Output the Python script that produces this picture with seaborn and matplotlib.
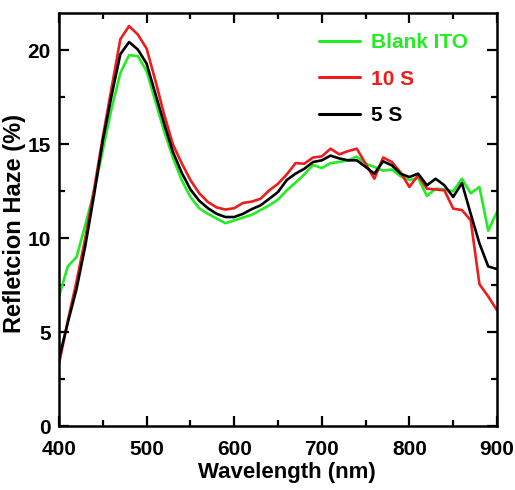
import numpy as np
import pandas as pd
import matplotlib
matplotlib.use("Agg")
import matplotlib.pyplot as plt
import seaborn as sns
from matplotlib.ticker import MultipleLocator

wavelength = list(range(400, 901, 10))

blank_ito = [6.9, 8.5, 9.0, 10.7, 12.5, 14.7, 16.9, 18.8, 19.75, 19.7,
             18.9, 17.3, 15.7, 14.3, 13.1, 12.2, 11.6, 11.3, 11.05, 10.8,
             10.95, 11.1, 11.25, 11.5, 11.75, 12.06, 12.55, 12.96, 13.4, 13.9,
             13.74, 14.0, 14.06, 14.15, 14.35, 13.97, 13.8, 13.6, 13.66, 13.3,
             13.1, 13.2, 12.25, 12.64, 12.6, 12.5, 13.17, 12.4, 12.73, 10.4,
             11.4]

s10 = [3.3, 5.6, 7.7, 10.0, 12.6, 15.4, 18.0, 20.6, 21.3, 20.85,
       20.1, 18.4, 16.6, 15.0, 14.0, 13.1, 12.4, 11.93, 11.64, 11.53,
       11.6, 11.88, 11.95, 12.1, 12.55, 12.9, 13.4, 14.0, 13.97, 14.3,
       14.36, 14.77, 14.47, 14.64, 14.77, 13.97, 13.17, 14.3, 14.06, 13.5,
       12.73, 13.35, 12.64, 12.6, 12.55, 11.58, 11.5, 10.96, 7.55, 6.9,
       6.17]

s5 = [3.6, 5.5, 7.3, 9.6, 12.3, 15.2, 17.6, 19.8, 20.45, 20.05,
      19.3, 17.7, 16.1, 14.6, 13.5, 12.6, 12.0, 11.6, 11.3, 11.13,
      11.13, 11.3, 11.55, 11.75, 12.1, 12.46, 13.1, 13.44, 13.7, 14.06,
      14.15, 14.4, 14.25, 14.15, 14.15, 13.8, 13.44, 14.1, 13.88, 13.44,
      13.26, 13.44, 12.82, 13.17, 12.82, 12.2, 12.94, 11.3, 9.72, 8.5,
      8.36]

series_names = ["Blank ITO", "10 S", "5 S"]
series_colors = {"Blank ITO": "#22ec22", "10 S": "#ee1c1c", "5 S": "#000000"}

df = pd.concat([
    pd.DataFrame({"Wavelength": wavelength, "Haze": vals, "Sample": name})
    for name, vals in zip(series_names, [blank_ito, s10, s5])
], ignore_index=True)

sns.set_style("ticks")
plt.rcParams["font.family"] = ["Liberation Sans", "DejaVu Sans"]
plt.rcParams["font.weight"] = "bold"
plt.rcParams["text.color"] = "black"
plt.rcParams["axes.labelcolor"] = "black"
plt.rcParams["xtick.color"] = "black"
plt.rcParams["ytick.color"] = "black"
plt.rcParams["axes.edgecolor"] = "black"

fig = plt.figure(figsize=(5.15, 4.9), dpi=100)
ax = fig.add_axes([0.1146, 0.1306, 0.8504, 0.843])

sns.lineplot(data=df, x="Wavelength", y="Haze", hue="Sample",
             hue_order=series_names, palette=series_colors,
             linewidth=1.9, ax=ax, estimator=None, sort=False)

# red above black
for line in ax.lines:
    if line.get_label() == "10 S":
        line.set_zorder(5)

ax.set_xlim(400, 900)
ax.set_ylim(0, 22)
ax.xaxis.set_major_locator(MultipleLocator(100))
ax.xaxis.set_minor_locator(MultipleLocator(50))
ax.yaxis.set_major_locator(MultipleLocator(5))
ax.yaxis.set_minor_locator(MultipleLocator(2.5))
ax.tick_params(which="both", direction="in", top=True, right=True,
               width=1.6, labelsize=15, colors="black")
ax.tick_params(axis="x", which="both", pad=10)
ax.tick_params(axis="y", which="both", pad=6)
ax.tick_params(which="major", length=7)
ax.tick_params(which="minor", length=4)
for lab in ax.get_xticklabels() + ax.get_yticklabels():
    lab.set_fontweight("bold")
for sp in ax.spines.values():
    sp.set_linewidth(1.8)
    sp.set_color("black")
    sp.set_visible(True)

ax.set_xlabel("Wavelength (nm)", fontsize=16, fontweight="bold")
ax.set_ylabel("Refletcion Haze (%)", fontsize=17, fontweight="bold")
ax.xaxis.set_label_coords(0.52, -0.088)
ax.yaxis.set_label_coords(-0.075, 0.49)

leg = ax.legend(loc="upper left", bbox_to_anchor=(0.55, 0.997), frameon=False,
                handlelength=2.0, handletextpad=0.5,
                labelspacing=0.85, prop={"weight": "bold", "size": 15})
for text, handle in zip(leg.get_texts(), leg.get_lines()):
    text.set_color(handle.get_color())
    handle.set_linewidth(2.2)

fig.savefig("out.png", dpi=100)
